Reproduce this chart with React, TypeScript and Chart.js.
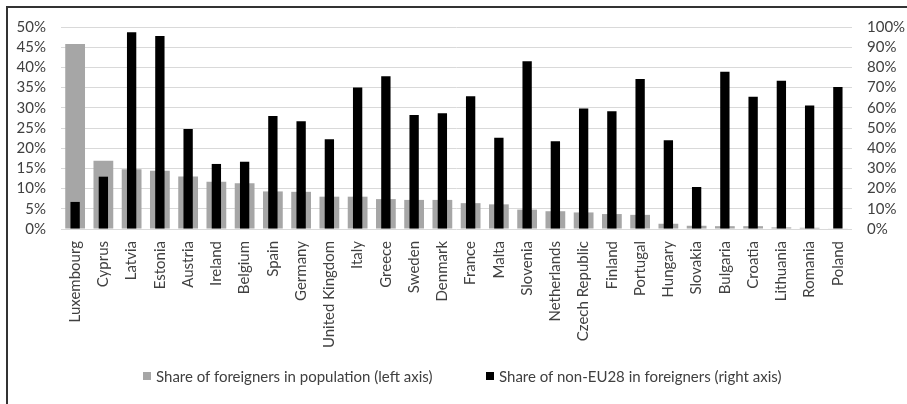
import { useEffect, useRef } from "react";
import { Chart, registerables } from "chart.js";

Chart.register(...registerables);

// EU member states, ordered by share of foreigners in the population
const countries = [
  "Luxembourg", "Cyprus", "Latvia", "Estonia", "Austria", "Ireland", "Belgium",
  "Spain", "Germany", "United Kingdom", "Italy", "Greece", "Sweden", "Denmark",
  "France", "Malta", "Slovenia", "Netherlands", "Czech Republic", "Finland",
  "Portugal", "Hungary", "Slovakia", "Bulgaria", "Croatia", "Lithuania",
  "Romania", "Poland",
];

// Share of foreigners in population, % (left axis)
const foreignersShare = [
  45.8, 16.9, 14.8, 14.4, 13.0, 11.7, 11.3, 9.3, 9.2, 8.0, 8.0, 7.4, 7.2, 7.2,
  6.4, 6.1, 4.8, 4.4, 4.1, 3.7, 3.5, 1.3, 0.8, 0.7, 0.7, 0.4, 0.3, 0.1,
];

// Share of non-EU28 citizens among foreigners, % (right axis)
const nonEu28Share = [
  13.4, 25.9, 97.4, 95.5, 49.5, 32.2, 33.3, 55.9, 53.3, 44.4, 70.0, 75.6, 56.4,
  57.3, 65.7, 45.2, 83.0, 43.4, 59.6, 58.3, 74.3, 43.9, 20.8, 77.9, 65.5, 73.4,
  61.2, 70.3,
];

const leftAxis = { max: 50, step: 5 };
const rightAxis = { max: 100, step: 10 };

const legendLabels = [
  "Share of foreigners in population (left axis)",
  "Share of non-EU28 in foreigners (right axis)",
];

const GREY = "#a6a6a6";
const BLACK = "#000000";
const TEXT = "#404040";
const FONT = { family: "Lato", size: 15 };

export default function App() {
  const canvasRef = useRef<HTMLCanvasElement>(null);

  useEffect(() => {
    // invisible tick marks keep the value labels away from the plot
    // without adding extra padding above the plot area
    const valueAxisGrid = {
      drawTicks: true,
      tickLength: 13,
      tickColor: "rgba(0,0,0,0)",
    };

    const chart = new Chart(canvasRef.current!, {
      type: "bar",
      data: {
        labels: countries,
        datasets: [
          {
            label: legendLabels[0],
            data: foreignersShare,
            backgroundColor: GREY,
            yAxisID: "yLeft",
            grouped: false,
            barPercentage: 0.7,
            categoryPercentage: 1,
            order: 2,
          },
          {
            label: legendLabels[1],
            data: nonEu28Share,
            backgroundColor: BLACK,
            yAxisID: "yRight",
            grouped: false,
            barPercentage: 0.33,
            categoryPercentage: 1,
            order: 1,
          },
        ],
      },
      options: {
        animation: false,
        responsive: false,
        maintainAspectRatio: false,
        layout: { padding: { top: 19, left: 0, right: 0, bottom: 0 } },
        plugins: { legend: { display: false }, tooltip: { enabled: false } },
        scales: {
          x: {
            grid: { display: false, drawTicks: false },
            border: { display: false },
            ticks: {
              autoSkip: false,
              minRotation: 90,
              maxRotation: 90,
              padding: 12,
              font: FONT,
              color: TEXT,
            },
            afterFit: (s: any) => {
              s.height = 175;
            },
          },
          yLeft: {
            position: "left",
            min: 0,
            max: leftAxis.max,
            ticks: {
              stepSize: leftAxis.step,
              autoSkip: false,
              maxTicksLimit: 20,
              padding: 2,
              font: FONT,
              color: TEXT,
              callback: (v: any) => `${v}%`,
            },
            grid: { ...valueAxisGrid, color: "#d9d9d9", lineWidth: 1 },
            border: { display: false },
            afterFit: (s: any) => {
              s.width = 53;
            },
          },
          yRight: {
            position: "right",
            min: 0,
            max: rightAxis.max,
            ticks: {
              stepSize: rightAxis.step,
              autoSkip: false,
              maxTicksLimit: 20,
              padding: 2,
              font: FONT,
              color: TEXT,
              callback: (v: any) => `${v}%`,
            },
            grid: { ...valueAxisGrid, drawOnChartArea: false },
            border: { display: false },
            afterFit: (s: any) => {
              s.width = 55;
            },
          },
        },
      },
    });
    return () => chart.destroy();
  }, []);

  const legendItem = (text: string, color: string, left: number) => (
    <div
      style={{
        position: "absolute",
        left,
        top: 359,
        display: "flex",
        alignItems: "center",
        whiteSpace: "nowrap",
        fontFamily: "Lato",
        fontSize: 15,
        lineHeight: "18px",
        color: TEXT,
      }}
    >
      <span
        style={{
          display: "inline-block",
          width: 8,
          height: 8,
          background: color,
          marginRight: 5,
        }}
      />
      {text}
    </div>
  );

  return (
    <div
      style={{
        position: "fixed",
        left: 6,
        top: 6,
        right: -20,
        bottom: -20,
        borderLeft: "2px solid #333",
        borderTop: "2px solid #333",
        background: "#fff",
        overflow: "hidden",
      }}
    >
      <canvas ref={canvasRef} width={899} height={396} style={{ display: "block" }} />
      {legendItem(legendLabels[0], GREY, 135)}
      {legendItem(legendLabels[1], BLACK, 478)}
    </div>
  );
}
